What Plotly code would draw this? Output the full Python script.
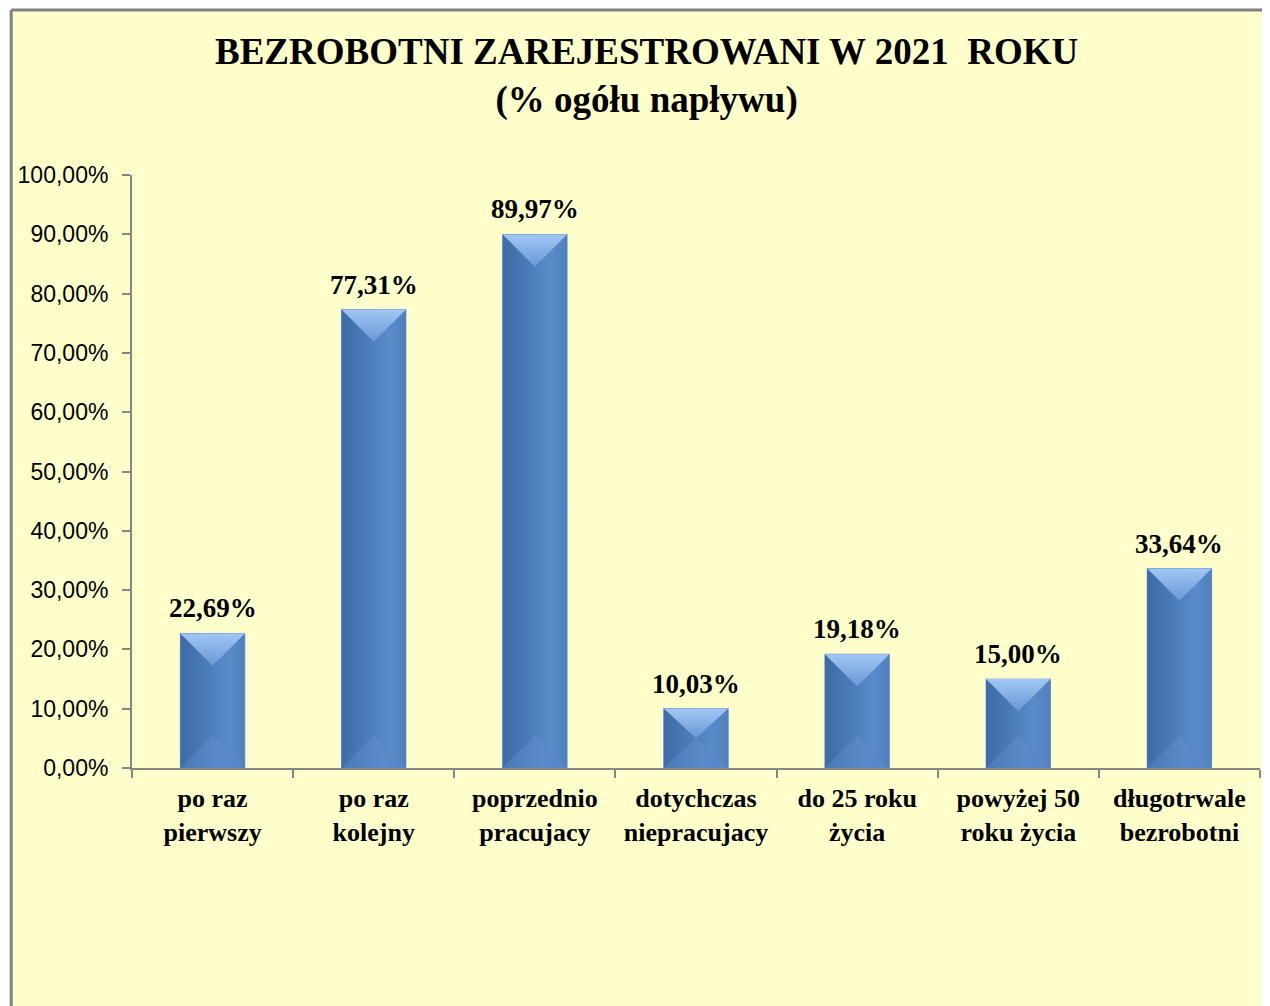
import plotly.graph_objects as go

# ---- data ----
categories = ["po raz<br>pierwszy", "po raz<br>kolejny", "poprzednio<br>pracujacy",
              "dotychczas<br>niepracujacy", "do 25 roku<br>życia",
              "powyżej 50<br>roku życia", "długotrwale<br>bezrobotni"]
values = [22.69, 77.31, 89.97, 10.03, 19.18, 15.00, 33.64]
y_tick_values = [0, 10, 20, 30, 40, 50, 60, 70, 80, 90, 100]
y_tick_labels = ["0,00%", "10,00%", "20,00%", "30,00%", "40,00%", "50,00%",
                 "60,00%", "70,00%", "80,00%", "90,00%", "100,00%"]
title_text = "BEZROBOTNI ZAREJESTROWANI W 2021\u00a0 ROKU<br>(% ogółu napływu)"


def fmt(v):
    return f"{v:.2f}".replace(".", ",") + "%"


# ---- style ----
OFF = 8  # page body margin offset
W, H = 1270 - OFF, 1006 - OFF
ML, MR, MT = 130 - OFF, 10, 175 - OFF
MB = H - MT - 593
BAR_W = 0.4
AXIS_COL = "#868686"
BG = "#FFFFCC"
BORDER = "#808080"
plot_w = W - ML - MR
plot_h = H - MT - MB
px_per_unit_y = plot_h / 100.0
px_per_cat = plot_w / len(categories)
bevel = (BAR_W * px_per_cat / 2) / px_per_unit_y  # 45° bevel depth in data units

fig = go.Figure()

fig.add_trace(go.Bar(
    x=categories, y=values, width=BAR_W,
    marker=dict(color="#4F81BD", line=dict(color="#7EA6DA", width=1)),
    hovertemplate="%{y:.2f}%<extra></extra>", showlegend=False,
))

for i, v in enumerate(values):
    x0, x1 = i - BAR_W / 2, i + BAR_W / 2
    d = min(bevel, v / 2)
    # body with horizontal gradient
    fig.add_trace(go.Scatter(
        x=[x0, x1, x1, x0, x0], y=[0, 0, v, v, 0], xaxis="x2",
        mode="lines", line=dict(width=0), fill="toself",
        fillgradient=dict(type="horizontal",
                          colorscale=[[0, "#3E6BA7"], [0.45, "#4C7DBC"],
                                      [0.75, "#5A8BCA"], [1, "#4E80BE"]]),
        hoverinfo="skip", showlegend=False,
    ))
    # bottom bevel
    fig.add_trace(go.Scatter(
        x=[x0, x1, i, x0], y=[0, 0, d, 0], xaxis="x2",
        mode="lines", line=dict(width=0), fill="toself",
        fillgradient=dict(type="horizontal",
                          colorscale=[[0, "#4A79B6"], [0.6, "#5A8ACA"], [1, "#5586C5"]]),
        hoverinfo="skip", showlegend=False,
    ))
    # top bevel
    fig.add_trace(go.Scatter(
        x=[x0, x1, i, x0], y=[v, v, v - d, v], xaxis="x2",
        mode="lines", line=dict(width=0), fill="toself",
        fillgradient=dict(type="vertical",
                          colorscale=[[0, "#6898D6"], [1, "#A2C7F5"]]),
        hoverinfo="skip", showlegend=False,
    ))

annotations = []
for c, v in zip(categories, values):
    annotations.append(dict(
        x=c, y=v, xref="x", yref="y", text=fmt(v), showarrow=False,
        yanchor="bottom", yshift=8,
        font=dict(family="Liberation Serif", size=27, color="black", weight="bold"),
    ))

annotations.append(dict(
    x=(645 - OFF - ML) / plot_w, y=(MT + plot_h - (76 - OFF)) / plot_h,
    xref="paper", yref="paper",
    text=title_text, showarrow=False, xanchor="center", yanchor="middle",
    font=dict(family="Liberation Serif", size=37, color="black", weight="bold"),
))

bx0 = (9 - OFF - ML) / plot_w
by1 = (MT + plot_h - (10 - OFF)) / plot_h
fig.update_layout(
    width=W, height=H,
    margin=dict(l=ML, r=MR, t=MT, b=MB),
    paper_bgcolor="white", plot_bgcolor="rgba(0,0,0,0)",
    bargap=0.6,
    annotations=annotations,
    shapes=[
        dict(type="rect", xref="paper", yref="paper", layer="below",
             x0=bx0, x1=1.3, y0=-1.0, y1=by1,
             fillcolor=BG, line=dict(width=0)),
        dict(type="line", xref="paper", yref="paper", layer="below",
             x0=bx0, x1=bx0, y0=-1.0, y1=by1, line=dict(color=BORDER, width=3)),
        dict(type="line", xref="paper", yref="paper", layer="below",
             x0=bx0, x1=1.3, y0=by1, y1=by1, line=dict(color=BORDER, width=3)),
    ],
    xaxis=dict(
        type="category", range=[-0.5, len(categories) - 0.5],
        tickson="boundaries", ticks="outside", ticklen=8, tickwidth=2,
        tickcolor=AXIS_COL, showline=True, linecolor=AXIS_COL, linewidth=2,
        showgrid=False, zeroline=False, ticklabelstandoff=6,
        tickfont=dict(family="Liberation Serif", size=26, color="black", weight="bold"),
    ),
    xaxis2=dict(overlaying="x", range=[-0.5, len(categories) - 0.5], visible=False),
    yaxis=dict(
        range=[0, 100], tickvals=y_tick_values, ticktext=y_tick_labels,
        ticks="outside", ticklen=8, tickwidth=2, tickcolor=AXIS_COL,
        showline=True, linecolor=AXIS_COL, linewidth=2,
        showgrid=False, zeroline=False, ticklabelstandoff=9,
        tickfont=dict(family="Liberation Sans", size=23, color="black"),
    ),
)

fig.write_html("out.html")
